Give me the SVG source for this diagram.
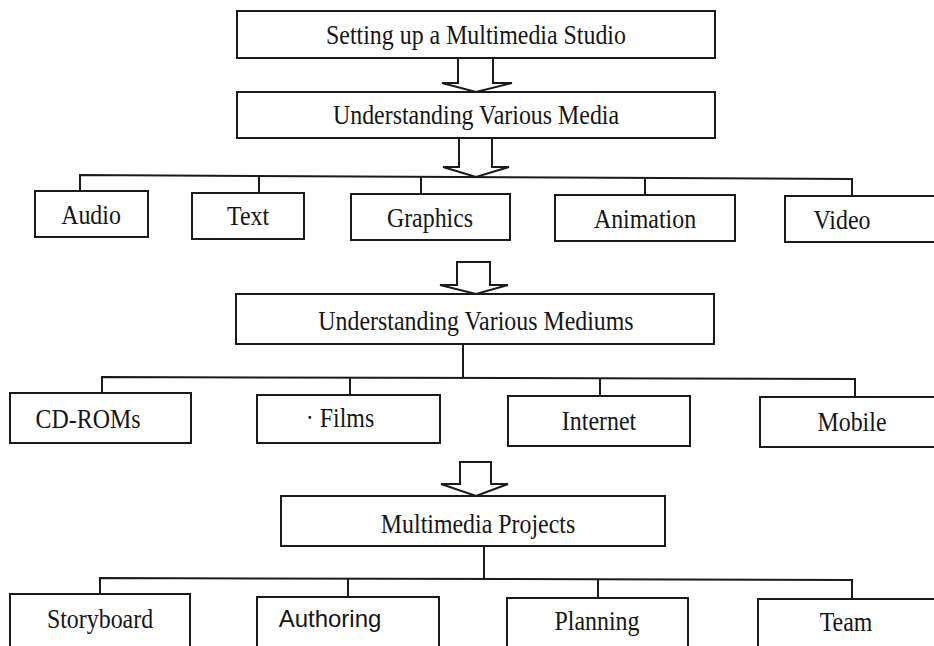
<svg xmlns="http://www.w3.org/2000/svg" width="934" height="646" viewBox="0 0 934 646">
<style>
.box{fill:#fff;stroke:#1a1a1a;stroke-width:2}
.ln{fill:none;stroke:#1a1a1a;stroke-width:2}
.arr{fill:#fff;stroke:#1a1a1a;stroke-width:2;stroke-linejoin:miter}
.t{font-family:"Liberation Serif","Times New Roman",serif;font-size:27px;fill:#151515;text-anchor:middle}
.s{font-family:"Liberation Sans",Arial,sans-serif;font-size:24px;fill:#151515;text-anchor:middle}
</style>
<rect width="934" height="646" fill="#fff"/>
<g id="connectors">
<path class="arr" d="M458,58 V83 H442 L476,92 L512,83 H493 V58"/>
<path class="arr" d="M459,138 V167 H443 L476,177 L509,167 H492 V138"/>
<path class="ln" d="M80,191 V175 L852,179 V196"/>
<path class="ln" d="M259,193 V175.7 M421,194 V176.5 M645,195 V177.6"/>
<path class="arr" d="M457,262 V285 H440 L476,294 L508,285 H490 V262 Z"/>
<path class="ln" d="M463,343 V378"/>
<path class="ln" d="M102,393 V377 L855,379 V397"/>
<path class="ln" d="M350,395 V377.7 M600,396 V378.3"/>
<path class="arr" d="M460,462 V484 H441 L476,496 L508,484 H491 V462 Z"/>
<path class="ln" d="M484,546 V579"/>
<path class="ln" d="M100,594 V578 L852,580 V599"/>
<path class="ln" d="M348,597 V578.6 M598,598 V579.3"/>
</g>
<g id="n-studio"><rect class="box" x="237" y="11" width="478" height="47"/><text class="t" transform="translate(476,44) scale(0.885,1)">Setting up a Multimedia Studio</text></g>
<g id="n-media"><rect class="box" x="237" y="92" width="478" height="46"/><text class="t" transform="translate(476,124) scale(0.885,1)">Understanding Various Media</text></g>
<g id="n-audio"><rect class="box" x="35" y="191" width="113" height="46"/><text class="t" transform="translate(91,224) scale(0.885,1)">Audio</text></g>
<g id="n-text"><rect class="box" x="192" y="193" width="112" height="46"/><text class="t" transform="translate(248,225) scale(0.885,1)">Text</text></g>
<g id="n-graphics"><rect class="box" x="351" y="194" width="159" height="46"/><text class="t" transform="translate(430,227) scale(0.885,1)">Graphics</text></g>
<g id="n-animation"><rect class="box" x="555" y="195" width="180" height="46"/><text class="t" transform="translate(645,228) scale(0.885,1)">Animation</text></g>
<g id="n-video"><rect class="box" x="785" y="196" width="152" height="46"/><text class="t" transform="translate(842,229) scale(0.885,1)">Video</text></g>
<g id="n-mediums"><rect class="box" x="236" y="294" width="478" height="50"/><text class="t" transform="translate(476,330) scale(0.885,1)">Understanding Various Mediums</text></g>
<g id="n-cdroms"><rect class="box" x="10" y="393" width="181" height="50"/><text class="t" transform="translate(88,428) scale(0.885,1)">CD-ROMs</text></g>
<g id="n-films"><rect class="box" x="257" y="395" width="183" height="48"/><text class="t" transform="translate(340,427) scale(0.885,1)">· Films</text></g>
<g id="n-internet"><rect class="box" x="508" y="396" width="182" height="50"/><text class="t" transform="translate(599,430) scale(0.885,1)">Internet</text></g>
<g id="n-mobile"><rect class="box" x="760" y="397" width="176" height="50"/><text class="t" transform="translate(852,431) scale(0.885,1)">Mobile</text></g>
<g id="n-projects"><rect class="box" x="281" y="496" width="384" height="50"/><text class="t" transform="translate(478,533) scale(0.885,1)">Multimedia Projects</text></g>
<g id="n-storyboard"><rect class="box" x="10" y="594" width="180" height="60"/><text class="t" transform="translate(100,628) scale(0.885,1)">Storyboard</text></g>
<g id="n-authoring"><rect class="box" x="257" y="597" width="182" height="60"/><text class="s" x="330" y="627">Authoring</text></g>
<g id="n-planning"><rect class="box" x="507" y="598" width="181" height="60"/><text class="t" transform="translate(597,630) scale(0.885,1)">Planning</text></g>
<g id="n-team"><rect class="box" x="758" y="599" width="178" height="60"/><text class="t" transform="translate(846,631) scale(0.885,1)">Team</text></g>
</svg>
